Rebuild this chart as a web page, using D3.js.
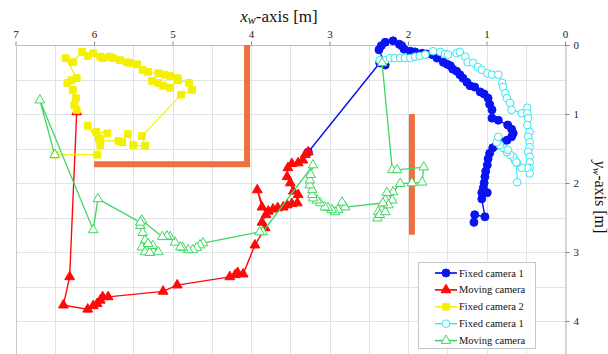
<!DOCTYPE html>
<html>
<head>
<meta charset="utf-8">
<script src="https://cdn.jsdelivr.net/npm/d3@7"></script>
<style>
  html, body { margin: 0; padding: 0; background: #fff; }
  svg { display: block; }
  svg text { font-family: "Liberation Serif", "Times New Roman", Times, "DejaVu Serif", serif; }
</style>
</head>
<body>
<svg id="chart" width="608" height="354"></svg>
<script>
// Axis ticks (metres)
const xTickValues = [0, 1, 2, 3, 4, 5, 6, 7];
const yTickValues = [0, 1, 2, 3, 4];

// Trajectories as [x_w, y_w] pairs in metres
const fixedCam1 = [
  [3.27,1.55],[2.36,0.26],[2.29,0.29],[2.37,0.07],[2.34,0.01],[2.29,-0.04],[2.19,-0.06],
  [2.11,-0.01],[2.08,0.01],[2.05,0.06],[1.97,0.09],[1.91,0.10],[1.82,0.12],[1.76,0.13],
  [1.69,0.14],[1.63,0.19],[1.55,0.25],[1.50,0.28],[1.46,0.30],[1.43,0.35],[1.38,0.38],
  [1.34,0.43],[1.30,0.48],[1.25,0.54],[1.21,0.59],[1.15,0.61],[1.08,0.68],[1.03,0.71],
  [0.98,0.77],[0.96,0.86],[0.93,0.94],[0.93,1.06],[0.85,1.09],[0.73,1.16],[0.68,1.22],
  [0.66,1.28],[0.68,1.33],[0.74,1.38],[0.80,1.41],[0.87,1.45],[0.92,1.49],[0.96,1.57],
  [0.98,1.65],[0.99,1.74],[1.01,1.83],[1.02,1.91],[1.03,2.00],[1.04,2.07],[1.06,2.14],
  [0.99,2.14],[1.06,2.23],[1.02,2.49],[1.15,2.46],[1.16,2.57]
];
const movingCam = [
  [6.22,0.97],[6.31,3.36],[6.39,3.77],[6.08,3.83],[6.01,3.78],[5.96,3.75],[5.92,3.70],
  [5.89,3.65],[5.82,3.65],[5.12,3.57],[4.94,3.48],[4.27,3.36],[4.20,3.33],[4.17,3.30],
  [4.10,3.32],[3.95,2.90],[3.82,2.65],[3.86,2.57],[3.81,2.46],[3.92,2.10],[3.86,2.35],
  [3.78,2.41],[3.72,2.38],[3.66,2.36],[3.59,2.35],[3.54,2.32],[3.48,2.30],[3.41,2.29],
  [3.40,2.17],[3.46,2.12],[3.50,2.00],[3.54,1.91],[3.53,1.78],[3.48,1.72],[3.40,1.71],
  [3.34,1.67],[3.31,1.59],[3.27,1.55]
];
const fixedCam2 = [
  [6.50,1.59],[5.96,1.59],[5.92,1.45],[6.08,1.17],[5.94,1.35],[5.97,1.26],[5.83,1.28],
  [5.92,1.39],[5.69,1.39],[5.64,1.41],[5.57,1.29],[5.50,1.45],[5.35,1.46],[5.39,1.32],
  [4.89,0.72],[4.75,0.65],[4.79,0.55],[4.93,0.51],[5.03,0.62],[5.12,0.59],[5.18,0.55],
  [5.26,0.52],[5.18,0.41],[5.10,0.43],[5.03,0.45],[4.94,0.48],[5.31,0.39],[5.38,0.36],
  [5.45,0.28],[5.54,0.26],[5.58,0.25],[5.67,0.22],[5.76,0.19],[5.80,0.17],[5.89,0.19],
  [5.92,0.17],[6.01,0.12],[6.08,0.16],[6.15,0.10],[6.27,0.25],[6.36,0.19],[6.22,0.48],
  [6.29,0.51],[6.34,0.55],[6.27,0.65],[6.23,0.77],[6.25,0.87],[6.22,0.94]
];
const fixedCam1b = [
  [2.36,0.22],[2.29,0.22],[2.23,0.19],[2.17,0.19],[2.10,0.19],[2.04,0.19],[1.97,0.19],
  [1.91,0.17],[1.85,0.16],[1.78,0.14],[1.68,0.09],[1.59,0.10],[1.53,0.13],[1.49,0.14],
  [1.38,0.12],[1.34,0.10],[1.27,0.17],[1.24,0.25],[1.17,0.26],[1.11,0.32],[1.06,0.36],
  [0.99,0.41],[0.93,0.43],[0.85,0.43],[0.80,0.55],[0.79,0.61],[0.76,0.70],[0.74,0.77],
  [0.70,0.84],[0.68,0.94],[0.55,0.99],[0.48,0.91],[0.48,0.99],[0.47,1.06],[0.48,1.16],
  [0.45,1.26],[0.47,1.33],[0.45,1.41],[0.45,1.48],[0.47,1.55],[0.45,1.62],[0.45,1.70],
  [0.45,1.78],[0.45,1.86],[0.48,1.78],[0.55,1.78],[0.61,1.71],[0.64,1.67],[0.66,1.62],
  [0.70,1.59],[0.74,1.55],[0.79,1.49],[0.83,1.45],[0.87,1.41],[0.85,1.33],[0.73,1.52],
  [0.62,1.70],[0.61,1.99]
];
const movingCamB = [
  [2.33,0.26],[2.20,1.81],[2.14,1.81],[1.80,1.77],[1.82,1.99],[1.95,2.00],[2.10,2.01],
  [2.19,2.13],[2.20,2.25],[2.27,2.14],[2.29,2.25],[2.33,2.39],[2.38,2.42],[2.39,2.51],
  [2.36,2.46],[2.29,2.42],[2.25,2.32],[2.32,2.29],[2.80,2.35],[2.84,2.28],[2.89,2.39],
  [2.93,2.42],[2.97,2.39],[3.02,2.36],[3.06,2.35],[3.12,2.29],[3.16,2.25],[3.21,2.22],
  [3.22,2.17],[3.22,2.10],[3.25,2.03],[3.25,1.96],[3.24,1.88],[3.21,1.74],[3.85,2.71],
  [3.89,2.71],[4.61,2.87],[4.65,2.90],[4.69,2.94],[4.74,2.97],[4.80,2.97],[4.87,2.94],
  [4.90,2.93],[4.97,2.86],[5.03,2.78],[5.07,2.77],[5.13,2.78],[5.39,2.54],[5.41,2.62],
  [5.38,2.72],[5.35,2.83],[5.39,2.93],[5.35,3.00],[5.29,3.01],[5.25,2.91],[5.18,3.00],
  [5.31,2.88],[5.41,2.57],[5.95,2.23],[6.01,2.68],[6.69,0.80],[6.50,1.59]
];

// Walls: polylines in metres
const walls = [
  [[6.0,1.73],[4.05,1.73],[4.05,0]],
  [[1.95,1.0],[1.95,2.75]]
];

const seriesList = [
  { name: "Fixed camera 1", data: fixedCam1,  color: "#0a14f0", symbol: d3.symbolCircle,   size: 50, filled: true,  width: 1.4 },
  { name: "Moving camera",  data: movingCam,  color: "#ff0a0a", symbol: d3.symbolTriangle, size: 42, filled: true,  width: 1.4 },
  { name: "Fixed camera 2", data: fixedCam2,  color: "#f4f000", symbol: d3.symbolSquare,   size: 46, filled: true,  width: 1.2 },
  { name: "Fixed camera 1", data: fixedCam1b, color: "#33e8f0", symbol: d3.symbolCircle,   size: 46, filled: false, width: 1.1 },
  { name: "Moving camera",  data: movingCamB, color: "#3cd860", symbol: d3.symbolTriangle, size: 40, filled: false, width: 1.3 }
];

const FONT = '"Liberation Serif", "Times New Roman", Times, "DejaVu Serif", serif';

const svg = d3.select("#chart");
const x = d3.scaleLinear().domain([7, 0]).range([15.5, 565]);
const y = d3.scaleLinear().domain([0, 4.5]).range([45, 355.5]);

// Grid every 0.5 m
const grid = svg.append("g").attr("stroke", "#dfe5e6").attr("stroke-width", 1);
grid.selectAll("line.v").data(d3.range(0, 7.01, 0.5)).join("line")
  .attr("x1", d => Math.round(x(d)) + 0.5).attr("x2", d => Math.round(x(d)) + 0.5)
  .attr("y1", y(0)).attr("y2", y(4.5));
grid.selectAll("line.h").data(d3.range(0, 4.51, 0.5)).join("line")
  .attr("x1", x(7)).attr("x2", x(0))
  .attr("y1", d => Math.round(y(d)) + 0.5).attr("y2", d => Math.round(y(d)) + 0.5);

// Top axis
const xAxis = svg.append("g").attr("transform", `translate(0,${Math.round(y(0)) + 0.5})`)
  .call(d3.axisTop(x).tickValues(xTickValues).tickSize(4).tickPadding(4).tickFormat(d3.format("d")));
// Right axis
const yAxis = svg.append("g").attr("transform", `translate(${Math.round(x(0)) + 0.5},0)`)
  .call(d3.axisRight(y).tickValues(yTickValues).tickSize(4).tickPadding(4).tickFormat(d3.format("d")));
[xAxis, yAxis].forEach(g => {
  g.attr("font-family", FONT);
  g.select(".domain").attr("stroke", "#b8bcbe");
  g.selectAll(".tick line").attr("stroke", "#888");
  g.selectAll(".tick text").attr("fill", "#222").attr("font-family", FONT).attr("font-size", 11);
});
xAxis.select(".domain").remove();
svg.append("line").attr("x1", x(7)).attr("x2", x(0))
  .attr("y1", Math.round(y(0)) + 0.5).attr("y2", Math.round(y(0)) + 0.5).attr("stroke", "#b8bcbe");
svg.append("line").attr("x1", Math.round(x(7)) + 0.5).attr("x2", Math.round(x(7)) + 0.5)
  .attr("y1", y(0)).attr("y2", y(4.5)).attr("stroke", "#c8cccd");

// Axis titles
const xt = svg.append("text").attr("x", 279).attr("y", 22).attr("text-anchor", "middle")
  .attr("font-family", FONT).attr("font-size", 17).attr("fill", "#111");
xt.append("tspan").attr("font-style", "italic").text("x");
xt.append("tspan").attr("font-style", "italic").attr("font-size", 12).attr("dy", 2).text("w");
xt.append("tspan").attr("dy", -2).text("-axis [m]");

const yt = svg.append("text").attr("transform", "translate(595,197) rotate(90)")
  .attr("text-anchor", "middle").attr("font-family", FONT).attr("font-size", 16).attr("fill", "#111");
yt.append("tspan").attr("font-style", "italic").text("y");
yt.append("tspan").attr("font-style", "italic").attr("font-size", 11).attr("dy", 2).text("w");
yt.append("tspan").attr("dy", -2).text("-axis [m]");

// Walls
const wallLine = d3.line().x(d => x(d[0])).y(d => y(d[1]));
svg.append("g").selectAll("path").data(walls).join("path")
  .attr("d", wallLine).attr("fill", "none").attr("stroke", "#ee7040")
  .attr("stroke-width", 6).attr("stroke-linejoin", "miter");

// Trajectories
const line = d3.line().x(d => x(d[0])).y(d => y(d[1]));
seriesList.forEach(s => {
  const g = svg.append("g");
  g.append("path").datum(s.data).attr("d", line).attr("fill", "none")
    .attr("stroke", s.color).attr("stroke-width", s.width);
  const sym = d3.symbol().type(s.symbol).size(s.size);
  g.selectAll("path.m").data(s.data).join("path").attr("class", "m")
    .attr("transform", d => `translate(${x(d[0])},${y(d[1])})`)
    .attr("d", sym)
    .attr("fill", s.filled ? s.color : "#fff")
    .attr("stroke", s.color).attr("stroke-width", 1);
});

// Legend
const lg = svg.append("g");
lg.append("rect").attr("x", 418.5).attr("y", 262.5).attr("width", 117).attr("height", 86)
  .attr("fill", "#fff").attr("stroke", "#c4c8ca");
seriesList.forEach((s, i) => {
  const cy = 273 + i * 16.9;
  lg.append("line").attr("x1", 435).attr("x2", 457).attr("y1", cy).attr("y2", cy)
    .attr("stroke", s.color).attr("stroke-width", s.width + 0.3);
  lg.append("path").attr("transform", `translate(446,${cy})`)
    .attr("d", d3.symbol().type(s.symbol).size(s.size)())
    .attr("fill", s.filled ? s.color : "#fff").attr("stroke", s.color);
  lg.append("text").attr("x", 459).attr("y", cy + 3.5).attr("font-family", FONT)
    .attr("font-size", 10.5).attr("fill", "#111").text(s.name);
});
</script>
</body>
</html>
